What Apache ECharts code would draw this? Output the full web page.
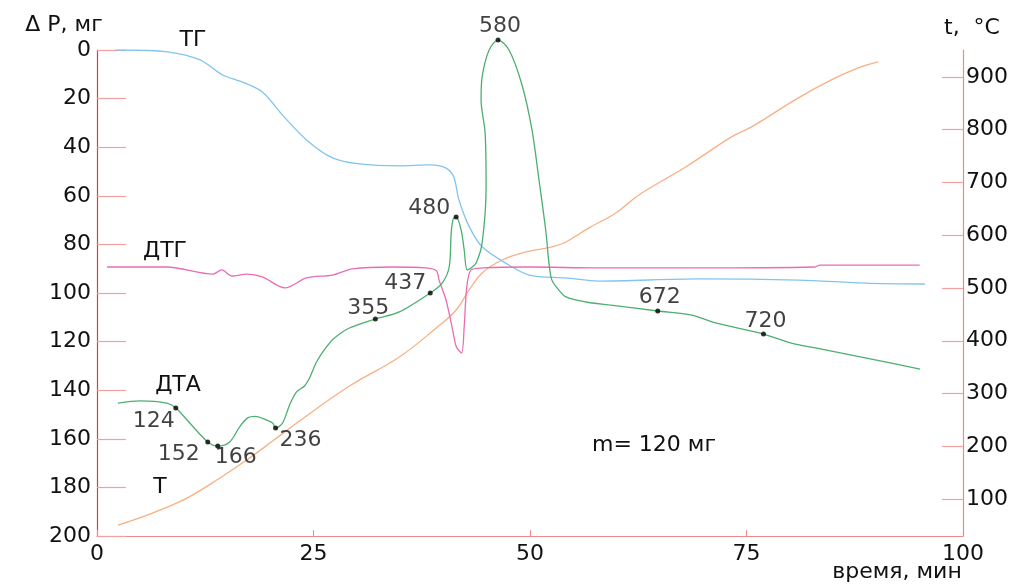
<!DOCTYPE html>
<html><head><meta charset="utf-8">
<script src="https://cdn.jsdelivr.net/npm/echarts@6/dist/echarts.min.js"></script>
<style>html,body{margin:0;padding:0;background:#fff}#c{width:1030px;height:585px}</style>
</head><body><div id="c"></div>
<script>
// time, min (x) and ΔP, mg (left axis, inverted)
const tgX  = [2.1,3.2,8.1,11.9,14.5,16.8,19.1,21.4,24.2,27.2,30.3,34.9,38.4,40.3,41.2,41.8,43.0,44.5,47.2,49.9,54.1,58.0,69.5,81.0,88.7,95.6];
const tgY  = [0,0,0.8,4.1,10.3,13.2,17.3,26.7,37.0,44.4,46.9,47.7,47.3,48.6,52.3,61.7,72.8,81.1,87.7,92.6,93.8,95.1,94.2,94.7,95.9,96.3];

const dtgX = [1.15,8.06,13.4,14.4,15.6,17.3,19.1,21.7,24.2,27.2,29.5,34.1,38.0,39.2,39.5,40.3,41.0,41.5,42.1,42.4,42.7,43.2,44.5,49.9,58.0,69.5,82.9,83.5,95.0];
const dtgY = [89.3,89.3,92.2,90.5,93.0,92.2,93.4,97.9,93.8,92.6,90.1,89.3,89.7,90.9,94.7,102.9,114.0,122.2,124.7,114.0,97.5,90.5,89.7,89.3,89.7,89.7,89.3,88.5,88.5];

const dtaX = [2.42,4.95,8.06,9.10,10.71,12.79,13.94,15.32,16.47,17.40,18.3,19.12,20.28,20.62,21.43,22.24,23.04,23.96,24.54,25.35,26.50,27.42,29.15,32.14,34.91,38.48,39.86,40.67,40.90,41.13,41.47,42.05,42.40,42.74,43.20,43.78,44.47,44.93,44.82,44.35,44.47,45.28,46.31,47.58,49.08,50.23,51.04,51.84,52.19,52.53,53.34,54.15,56.45,59.10,64.75,68.66,71.43,76.96,80.18,82.95,88.71,95.05];
const dtaY = [145.3,144.4,145.3,147.3,153.5,161.3,163.0,161.3,155.1,151.4,150.8,151.6,153.5,155.6,153.5,146.1,140.7,138.3,135.0,128.4,122.2,118.5,114.4,110.7,107.8,100.0,95.9,89.3,75.3,69.5,68.7,74.1,82.3,90.5,89.7,87.7,79.4,56.4,34.2,20.6,11.1,0,-4.1,0,14.4,32.9,53.5,74.9,87.7,94.7,98.8,101.6,103.7,104.9,107.4,109.1,112.3,116.9,120.6,122.6,126.7,131.3];

// temperature, °C (right axis)
const tX = [2.42,6.11,9.56,11.7,13.82,17.28,20.28,23.39,29.15,34.91,39.17,41.47,42.97,44.47,46.77,49.54,52.53,54.15,56.80,59.91,62.56,67.97,73.27,75.58,80.99,84.79,87.90,90.21];
const tY = [50.7,71.6,95.0,114.0,136.0,173.9,210.0,247.9,314.2,369.2,424.2,458.3,496.2,528.4,553.1,568.3,577.7,587.2,613.8,642.2,676.3,729.4,786.3,805.3,860.3,894.3,917.1,928.5];

// marked DTA points
const peakLabels = ['124','152','166','236','355','437','480','580','672','720'];
const peakX = [9.10,12.79,13.94,20.62,32.14,38.48,41.47,46.31,64.75,76.96];
const peakY = [147.3,161.3,163.0,155.6,110.7,100.0,68.7,-4.1,107.4,116.9];

const xTicks = [0,25,50,75,100];
const rightTicks = [100,200,300,400,500,600,700,800,900];

const labelOffsets = [[-22,13],[-29,12],[18,11],[25,12],[-7,-11],[-25,-10],[-27,-9],[2,-14],[2,-14],[2,-13]];

const zip = (a,b) => a.map((v,i)=>[v,b[i]]);
const FONT = 'DejaVu Sans';
const txt = '#111';
const FS = 22;
const tfont = FS + 'px "DejaVu Sans"';

const chart = echarts.init(document.getElementById('c'), null, {renderer:'canvas'});
chart.setOption({
  animation:false,
  backgroundColor:'#fff',
  textStyle:{fontFamily:FONT},
  grid:{left:97,right:67,top:50,bottom:49,outerBoundsMode:'none',containLabel:false},
  xAxis:{type:'value',min:0,max:100,interval:25,
    axisLine:{show:true,onZero:false,lineStyle:{color:'#f08a8a',width:1.2}},
    axisTick:{show:true,inside:true,length:6,lineStyle:{color:'#f08a8a'}},
    axisLabel:{color:txt,fontSize:FS,margin:7,fontFamily:FONT,showMinLabel:true,showMaxLabel:true,customValues:xTicks},
    splitLine:{show:false}},
  yAxis:[
    {type:'value',inverse:true,min:0,max:200,interval:20,position:'left',
     axisLine:{show:true,onZero:false,lineStyle:{color:'#e03a3a',width:1.2}},
     axisTick:{show:true,inside:true,length:29,lineStyle:{color:'#f4a0a0',width:1.2}},
     axisLabel:{color:txt,fontSize:FS,margin:6,fontFamily:FONT,showMinLabel:true,showMaxLabel:true},
     splitLine:{show:false}},
    {type:'value',min:30,max:951,position:'right',
     axisLine:{show:true,onZero:false,lineStyle:{color:'#f08a8a',width:1.2}},
     axisTick:{show:true,inside:true,length:21,customValues:rightTicks,lineStyle:{color:'#f4a0a0',width:1.2}},
     axisLabel:{color:txt,fontSize:FS,margin:3,fontFamily:FONT,customValues:rightTicks},
     splitLine:{show:false}}
  ],
  series:[
    {name:'T',type:'line',yAxisIndex:1,data:zip(tX,tY),smooth:0.4,showSymbol:false,
     lineStyle:{color:'#f7b084',width:1.3}},
    {name:'ТГ',type:'line',yAxisIndex:0,data:zip(tgX,tgY),smooth:0.3,showSymbol:false,
     lineStyle:{color:'#82c4ee',width:1.3}},
    {name:'ДТГ',type:'line',yAxisIndex:0,data:zip(dtgX,dtgY),smooth:0.3,showSymbol:false,
     lineStyle:{color:'#e96db3',width:1.3}},
    {name:'ДТА',type:'line',yAxisIndex:0,data:zip(dtaX,dtaY),smooth:0.3,showSymbol:false,clip:false,
     lineStyle:{color:'#4caf70',width:1.3}},
    {name:'points',type:'scatter',yAxisIndex:0,clip:false,symbolSize:5,z:5,
     itemStyle:{color:'#000'},
     data:peakX.map((x,i)=>({value:[x,peakY[i]],
        label:{show:true,formatter:peakLabels[i],position:'inside',offset:labelOffsets[i],
               color:txt,fontSize:FS,fontFamily:FONT,align:'center',verticalAlign:'middle'}}))}
  ],
  graphic:[
    {type:'text',x:64,y:25,style:{text:'Δ P, мг',fill:txt,font:tfont,align:'center',verticalAlign:'middle'}},
    {type:'text',x:972,y:28,style:{text:'t,  °C',fill:txt,font:tfont,align:'center',verticalAlign:'middle'}},
    {type:'text',x:897,y:572,style:{text:'время, мин',fill:txt,font:tfont,align:'center',verticalAlign:'middle'}},
    {type:'text',x:193,y:40,style:{text:'ТГ',fill:txt,font:tfont,align:'center',verticalAlign:'middle'}},
    {type:'text',x:165,y:251,style:{text:'ДТГ',fill:txt,font:tfont,align:'center',verticalAlign:'middle'}},
    {type:'text',x:178,y:385,style:{text:'ДТА',fill:txt,font:tfont,align:'center',verticalAlign:'middle'}},
    {type:'text',x:160,y:487,style:{text:'T',fill:txt,font:tfont,align:'center',verticalAlign:'middle'}},
    {type:'text',x:654,y:445,style:{text:'m= 120 мг',fill:txt,font:tfont,align:'center',verticalAlign:'middle'}}
  ]
});
</script></body></html>
